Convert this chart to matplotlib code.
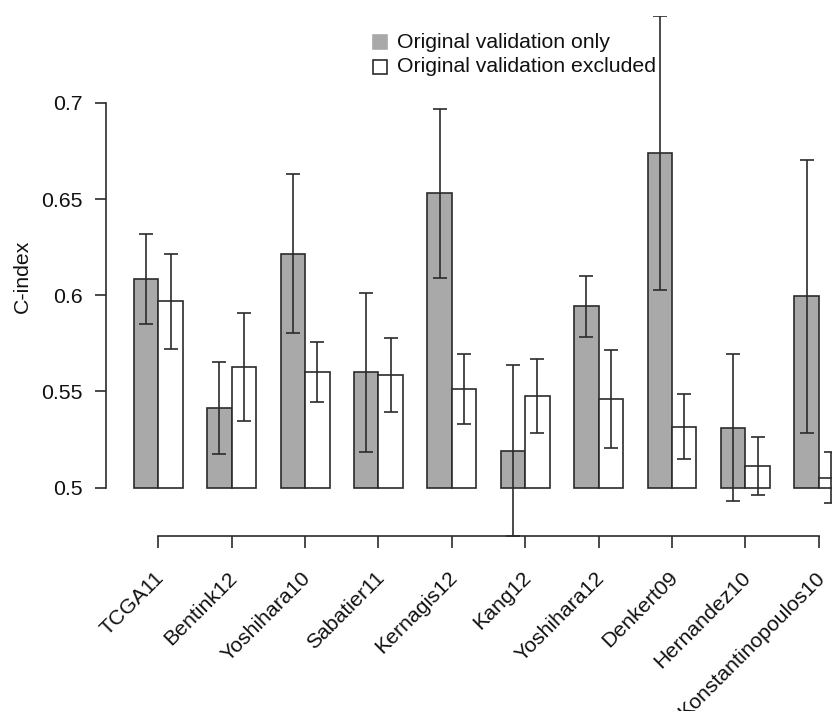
import matplotlib
matplotlib.use("Agg")
import matplotlib.pyplot as plt
from matplotlib.patches import Rectangle
from matplotlib.transforms import ScaledTranslation
import numpy as np

plt.rcParams['font.family'] = ['Liberation Sans', 'DejaVu Sans']

# ---- data ----
datasets = ["TCGA11", "Bentink12", "Yoshihara10", "Sabatier11", "Kernagis12",
            "Kang12", "Yoshihara12", "Denkert09", "Hernandez10", "Konstantinopoulos10"]
only_val = [0.6086, 0.5414, 0.6215, 0.5601, 0.6530, 0.5192, 0.5944, 0.6738, 0.5310, 0.5994]
only_lo  = [0.5852, 0.5175, 0.5802, 0.5186, 0.6088, 0.4748, 0.5783, 0.6027, 0.4931, 0.5284]
only_hi  = [0.6317, 0.5655, 0.6628, 0.6012, 0.6971, 0.5636, 0.6102, 0.7452, 0.5693, 0.6701]
excl_val = [0.5968, 0.5629, 0.5601, 0.5587, 0.5513, 0.5475, 0.5461, 0.5315, 0.5111, 0.5052]
excl_lo  = [0.5722, 0.5347, 0.5447, 0.5391, 0.5329, 0.5284, 0.5206, 0.5146, 0.4960, 0.4920]
excl_hi  = [0.6213, 0.5910, 0.5755, 0.5778, 0.5696, 0.5670, 0.5717, 0.5485, 0.5261, 0.5183]
yticks = [0.5, 0.55, 0.6, 0.65, 0.7]
ytick_labels = ["0.5", "0.55", "0.6", "0.65", "0.7"]
legend_labels = ["Original validation only", "Original validation excluded"]
baseline = 0.5

# ---- layout ----
W, H, DPI = 832, 711, 100
fig = plt.figure(figsize=(W / DPI, H / DPI), dpi=DPI)
fs = 15.3
grey = "#a9a9a9"
ink = "#2b2b2b"
txt = "#111111"

n = len(datasets)
centers = 3 * np.arange(n) + 2.0
xlim = (-0.16, 31.16)
px_per_unit = 24.46
ax_left_px, ax_top_px, ax_bottom_px = 105.5, 16, 536
ax_w_px = (xlim[1] - xlim[0]) * px_per_unit
ax = fig.add_axes([ax_left_px / W, 1 - ax_bottom_px / H, ax_w_px / W, (ax_bottom_px - ax_top_px) / H])

only_val = np.array(only_val); excl_val = np.array(excl_val)
ax.bar(centers - 0.5, only_val - baseline, width=1.0, bottom=baseline, color=grey,
       edgecolor=ink, linewidth=1.2, zorder=2)
ax.bar(centers + 0.5, excl_val - baseline, width=1.0, bottom=baseline, color="white",
       edgecolor=ink, linewidth=1.2, zorder=2)

ax.errorbar(centers - 0.5, only_val,
            yerr=[only_val - np.array(only_lo), np.array(only_hi) - only_val],
            fmt="none", ecolor=ink, elinewidth=1.2, capsize=4.7, capthick=1.2, zorder=3)
ax.errorbar(centers + 0.5, excl_val,
            yerr=[excl_val - np.array(excl_lo), np.array(excl_hi) - excl_val],
            fmt="none", ecolor=ink, elinewidth=1.2, capsize=4.7, capthick=1.2, zorder=3)

ax.set_xlim(*xlim)
ax.set_ylim(min(min(only_lo), min(excl_lo)), max(max(only_hi), max(excl_hi)))

for s in ["top", "right"]:
    ax.spines[s].set_visible(False)
ax.spines["left"].set_bounds(yticks[0], yticks[-1])
ax.spines["bottom"].set_bounds(centers[0], centers[-1])
for s in ["left", "bottom"]:
    ax.spines[s].set_color(ink)
    ax.spines[s].set_linewidth(1.2)

ax.set_yticks(yticks)
ax.set_yticklabels(ytick_labels, fontsize=fs, color=txt)
ax.tick_params(axis="y", length=8, width=1.2, color=ink, pad=8.5)

ax.set_xticks(centers)
ax.set_xticklabels(datasets, fontsize=fs, color=txt, rotation=45,
                   ha="right", va="top", rotation_mode="anchor")
ax.tick_params(axis="x", length=8.6, width=1.2, color=ink, pad=14.5)
shift = ScaledTranslation(-4 / DPI, 0, fig.dpi_scale_trans)
for lbl in ax.get_xticklabels():
    lbl.set_transform(lbl.get_transform() + shift)

fig.text(22 / W, 1 - 276 / H, "C-index", rotation=90, ha="center", va="center",
         fontsize=fs, color=txt)

# legend (manual)
sq = 13.5
leg_x_px = 380
leg_rows_px = [42, 67]
fills = [grey, "white"]
edges = [grey, ink]
for lab, yc, fc, ec in zip(legend_labels, leg_rows_px, fills, edges):
    fig.add_artist(Rectangle(((leg_x_px - sq / 2) / W, 1 - (yc + sq / 2) / H), sq / W, sq / H,
                             facecolor=fc, edgecolor=ec, linewidth=1.2,
                             transform=fig.transFigure))
    fig.text(397 / W, 1 - yc / H, lab, ha="left", va="center", fontsize=fs, color=txt)

fig.savefig("out.png", dpi=DPI)
